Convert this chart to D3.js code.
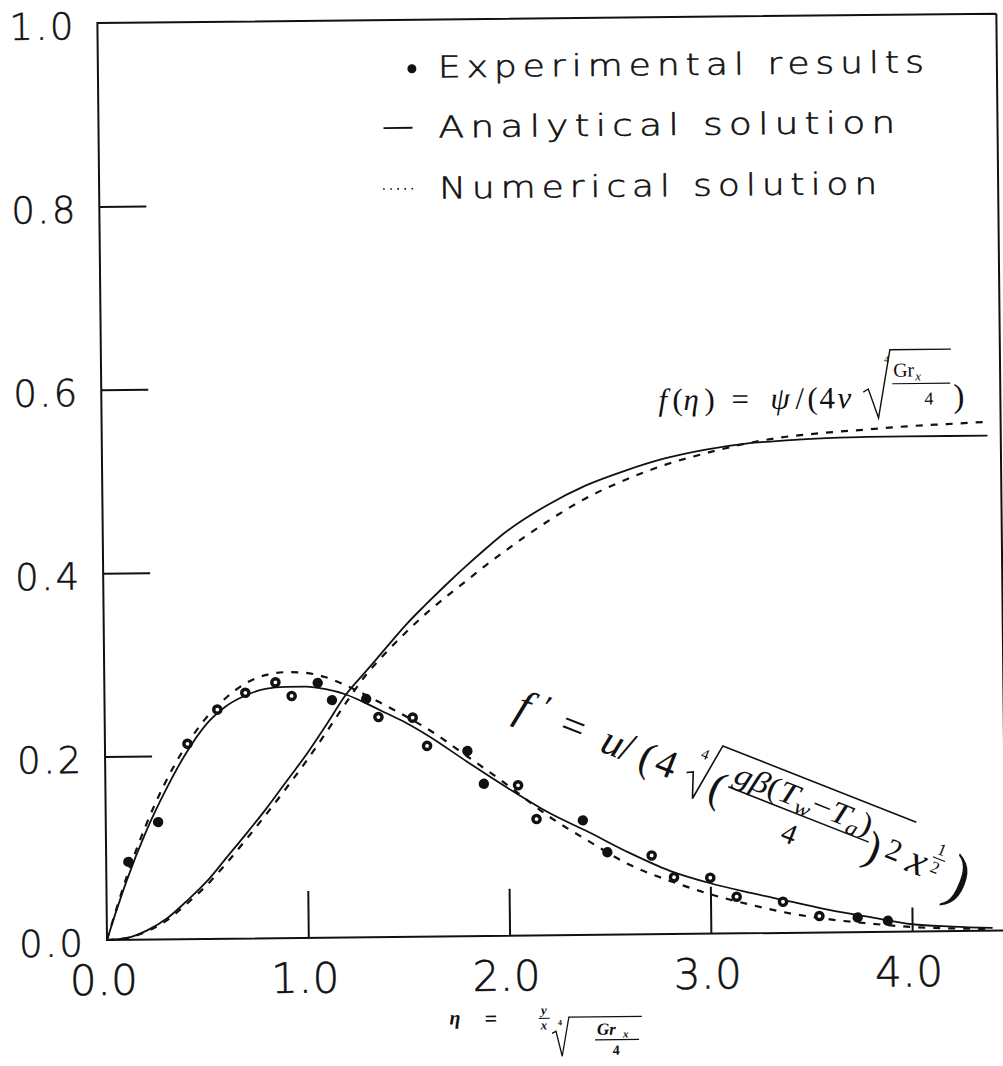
<!DOCTYPE html>
<html>
<head>
<meta charset="utf-8">
<script src="https://cdn.jsdelivr.net/npm/d3@7"></script>
<style>
  body { margin: 0; background: #fff; }
  .tick-font { font-family: "DejaVu Sans", sans-serif; font-weight: 200; stroke: #111; stroke-width: 0.55px; }
  .math { font-family: "Liberation Serif", "DejaVu Serif", serif; }
</style>
</head>
<body>
<svg id="chart" width="1003" height="1066"></svg>
<script>
// f(eta) curves
var etaF = [0, 0.1, 0.2, 0.3, 0.4, 0.5, 0.6, 0.7, 0.8, 0.9, 1.0, 1.1, 1.2, 1.3, 1.4, 1.5, 1.6, 1.7, 1.8, 1.9, 2.0,
            2.2, 2.4, 2.6, 2.8, 3.0, 3.2, 3.4, 3.6, 3.8, 4.0, 4.2, 4.4];
var fAnalytical = [0, 0.002, 0.010, 0.023, 0.042, 0.063, 0.089, 0.115, 0.142, 0.171, 0.200, 0.232, 0.265, 0.290, 0.315,
                   0.340, 0.362, 0.383, 0.403, 0.422, 0.440, 0.468, 0.490, 0.506, 0.519, 0.528, 0.534, 0.537, 0.539,
                   0.540, 0.540, 0.540, 0.540];
var fNumerical = [0, 0.002, 0.009, 0.021, 0.039, 0.059, 0.083, 0.109, 0.136, 0.164, 0.193, 0.224, 0.256, 0.286, 0.310,
                  0.332, 0.352, 0.370, 0.387, 0.404, 0.420, 0.450, 0.476, 0.496, 0.512, 0.524, 0.534, 0.541, 0.545,
                  0.548, 0.551, 0.553, 0.555];

// f'(eta) curves
var etaFp = [0, 0.05, 0.1, 0.2, 0.3, 0.4, 0.5, 0.6, 0.7, 0.8, 0.9, 1.0, 1.1, 1.2, 1.3, 1.4, 1.5, 1.6, 1.8, 2.0,
             2.2, 2.4, 2.6, 2.8, 3.0, 3.2, 3.4, 3.6, 3.8, 4.0, 4.2, 4.4];
var fpAnalytical = [0, 0.033, 0.064, 0.118, 0.163, 0.202, 0.233, 0.253, 0.265, 0.272, 0.274, 0.274, 0.271, 0.265, 0.255,
                    0.244, 0.233, 0.220, 0.190, 0.161, 0.134, 0.112, 0.089, 0.069, 0.055, 0.044, 0.034, 0.024, 0.016,
                    0.008, 0.005, 0.003];
var fpNumerical = [0, 0.035, 0.068, 0.125, 0.172, 0.210, 0.240, 0.262, 0.278, 0.287, 0.290, 0.289, 0.284, 0.275, 0.264,
                   0.252, 0.240, 0.227, 0.196, 0.164, 0.130, 0.102, 0.076, 0.058, 0.043, 0.031, 0.021, 0.014, 0.009,
                   0.005, 0.003, 0.002];

// experimental points (1 = filled dot, 0 = open circle)
var expEta = [0.11, 0.26, 0.41, 0.56, 0.70, 0.85, 0.93, 1.06, 1.13, 1.30, 1.36, 1.53, 1.60, 1.80, 1.88, 2.05, 2.14,
              2.37, 2.49, 2.71, 2.82, 3.00, 3.13, 3.36, 3.54, 3.73, 3.88];
var expValue = [0.085, 0.128, 0.213, 0.250, 0.268, 0.279, 0.264, 0.278, 0.259, 0.260, 0.240, 0.239, 0.208, 0.202, 0.166,
                0.164, 0.127, 0.125, 0.090, 0.086, 0.062, 0.061, 0.040, 0.034, 0.018, 0.016, 0.012];
var expFilled = [1, 1, 0, 0, 0, 0, 0, 1, 1, 1, 0, 0, 0, 1, 1, 0, 0, 1, 1, 0, 0, 0, 0, 0, 0, 1, 1];

var xTicks = [0, 1, 2, 3, 4];
var yTicks = [0, 0.2, 0.4, 0.6, 0.8, 1.0];
var legendLabels = ["Experimental results", "Analytical solution", "Numerical solution"];

var svg = d3.select("#chart");
// the scanned figure sits slightly tilted
var g = svg.append("g").attr("transform", "rotate(-0.6,107,940)");

var x = d3.scaleLinear().domain([0, 4.4]).range([107, 107 + 4.4 * 201.3]);
var y = d3.scaleLinear().domain([0, 1]).range([940, 23]);
var right = 1006;

// frame
g.append("path")
    .attr("d", "M" + right + "," + y(1) + "H" + x(0) + "V" + y(0) + "H" + right + "V" + y(1))
    .attr("fill", "none")
    .attr("stroke", "#111")
    .attr("stroke-width", 2);

// y axis: labels outside, ticks drawn inward
var yAxis = d3.axisLeft(y)
    .tickValues(yTicks)
    .tickFormat(d3.format(".1f"))
    .tickSizeInner(-47)
    .tickSizeOuter(0)
    .tickPadding(24);
var yg = g.append("g").attr("transform", "translate(" + x(0) + ",0)").call(yAxis);
yg.select(".domain").remove();
yg.selectAll(".tick line")
    .attr("stroke", "#111")
    .attr("stroke-width", 2)
    .attr("x2", function (d) { return (d === 0 || d === 1) ? 0 : 47; });
yg.selectAll(".tick text")
    .attr("class", "tick-font")
    .attr("font-size", 37)
    .attr("fill", "#111")
    .attr("dy", "0.42em")
    .attr("textLength", 64)
    .attr("lengthAdjust", "spacing");

// x axis
var xAxis = d3.axisBottom(x)
    .tickValues(xTicks)
    .tickFormat(d3.format(".1f"))
    .tickSizeInner(-47)
    .tickSizeOuter(0)
    .tickPadding(25);
var xg = g.append("g").attr("transform", "translate(0," + y(0) + ")").call(xAxis);
xg.select(".domain").remove();
xg.selectAll(".tick line")
    .attr("stroke", "#111")
    .attr("stroke-width", 2)
    .attr("y2", function (d) { return d === 0 ? 0 : (d === 4 ? -24 : -47); });
xg.selectAll(".tick text")
    .attr("class", "tick-font")
    .attr("font-size", 42)
    .attr("fill", "#111")
    .attr("dx", -4)
    .attr("textLength", 68)
    .attr("lengthAdjust", "spacing");

// curves
function curve(xs, ys) {
    return d3.line()
        .x(function (d, i) { return x(xs[i]); })
        .y(function (d) { return y(d); })
        .curve(d3.curveMonotoneX)(ys);
}

var curves = [
    { eta: etaF, v: fAnalytical, dash: null },
    { eta: etaF, v: fNumerical, dash: "7,8" },
    { eta: etaFp, v: fpAnalytical, dash: null },
    { eta: etaFp, v: fpNumerical, dash: "7,8" }
];
g.selectAll("path.curve")
    .data(curves)
    .enter()
    .append("path")
    .attr("class", "curve")
    .attr("d", function (c) { return curve(c.eta, c.v); })
    .attr("fill", "none")
    .attr("stroke", "#111")
    .attr("stroke-width", function (c) { return c.dash ? 2.2 : 1.8; })
    .attr("stroke-dasharray", function (c) { return c.dash; });

// experimental points
g.selectAll("circle.exp")
    .data(expEta)
    .enter()
    .append("circle")
    .attr("class", "exp")
    .attr("cx", function (d) { return x(d); })
    .attr("cy", function (d, i) { return y(expValue[i]); })
    .attr("r", function (d, i) { return expFilled[i] ? 5.2 : 3.6; })
    .attr("fill", function (d, i) { return expFilled[i] ? "#111" : "#fff"; })
    .attr("stroke", "#111")
    .attr("stroke-width", function (d, i) { return expFilled[i] ? 0 : 3.4; });

// legend
var legend = g.append("g");
var legendY = [81, 141, 202];
var legendW = [492, 463, 444];
legend.selectAll("text")
    .data(legendLabels)
    .enter()
    .append("text")
    .attr("class", "tick-font")
    .attr("x", 447)
    .attr("y", function (d, i) { return legendY[i]; })
    .attr("font-size", 30)
    .attr("letter-spacing", 5)
    .attr("fill", "#111")
    .attr("textLength", function (d, i) { return legendW[i]; })
    .attr("lengthAdjust", "spacingAndGlyphs")
    .text(function (d) { return d; });
legend.append("circle").attr("cx", 421).attr("cy", legendY[0] - 9).attr("r", 4.5).attr("fill", "#111");
legend.append("line")
    .attr("x1", 392).attr("x2", 421)
    .attr("y1", legendY[1] - 10).attr("y2", legendY[1] - 10)
    .attr("stroke", "#111").attr("stroke-width", 1.8);
legend.append("line")
    .attr("x1", 391).attr("x2", 423)
    .attr("y1", legendY[2] - 10).attr("y2", legendY[2] - 10)
    .attr("stroke", "#111").attr("stroke-width", 1.6)
    .attr("stroke-dasharray", "1.6,5.5");

// helper for math pieces
function put(parent, s, px, py, size, opts) {
    opts = opts || {};
    return parent.append("text")
        .attr("class", "math")
        .attr("x", px).attr("y", py)
        .attr("font-size", size)
        .attr("font-style", opts.italic ? "italic" : "normal")
        .attr("font-weight", opts.bold ? "bold" : "normal")
        .attr("text-anchor", opts.anchor || "start")
        .attr("fill", "#111")
        .text(s);
}

// f(eta) label
var fl = g.append("g");
put(fl, "f", 664, 416, 31, { italic: true });
put(fl, "(", 678, 416, 31);
put(fl, "η", 689, 416, 31, { italic: true });
put(fl, ")", 710, 416, 31);
put(fl, "=", 737, 416, 31);
put(fl, "ψ", 776, 416, 31, { italic: true });
put(fl, "/", 801, 416, 31);
put(fl, "(", 813, 416, 31);
put(fl, "4", 825, 416, 31);
put(fl, "ν", 843, 416, 31, { italic: true });
put(fl, "4", 890, 371, 10);
fl.append("path")
    .attr("d", "M869,400L874,397L884,426L896,358H957")
    .attr("fill", "none").attr("stroke", "#111").attr("stroke-width", 1.4);
put(fl, "Gr", 899, 385, 20);
put(fl, "x", 921, 389, 13, { italic: true });
fl.append("line").attr("x1", 898).attr("x2", 956).attr("y1", 392).attr("y2", 392)
    .attr("stroke", "#111").attr("stroke-width", 1.2);
put(fl, "4", 930, 413, 18);
put(fl, ")", 959, 416, 33);

// f' label, written along the falling curve
var fp = g.append("g").attr("transform", "translate(517,722) rotate(22.1)");
put(fp, "f", -2, 0, 44, { italic: true });
put(fp, "′", 22, -10, 34);
put(fp, "=", 46, 0, 42);
put(fp, "u", 90, 0, 42, { italic: true });
put(fp, "/", 110, 0, 42);
put(fp, "(", 131, 2, 42);
put(fp, "4", 148, 0, 40);
put(fp, "4", 187, -31, 15);
fp.append("path")
    .attr("d", "M180,-12L186,-15L195,10L204,-50H412")
    .attr("fill", "none").attr("stroke", "#111").attr("stroke-width", 1.6);
put(fp, "(", 207, 5, 44);
var num = fp.append("text").attr("class", "math").attr("x", 226).attr("y", -20)
    .attr("font-size", 31).attr("fill", "#111")
    .attr("textLength", 146).attr("lengthAdjust", "spacingAndGlyphs");
num.append("tspan").attr("font-style", "italic").text("gβ");
num.append("tspan").text("(");
num.append("tspan").attr("font-style", "italic").text("T");
num.append("tspan").attr("font-style", "italic").attr("font-size", 21).attr("dy", 6).text("w");
num.append("tspan").attr("dy", -6).text("−");
num.append("tspan").attr("font-style", "italic").text("T");
num.append("tspan").attr("font-style", "italic").attr("font-size", 21).attr("dy", 6).text("a");
num.append("tspan").attr("dy", -6).text(")");
fp.append("line").attr("x1", 224).attr("x2", 375).attr("y1", -14).attr("y2", -14)
    .attr("stroke", "#111").attr("stroke-width", 1.5);
put(fp, "4", 298, 17, 29, { anchor: "middle" });
put(fp, ")", 374, 4, 44);
put(fp, "2", 394, -6, 30);
put(fp, "x", 418, -1, 42, { italic: true });
put(fp, "1", 446, -28, 17, { anchor: "middle" });
fp.append("line").attr("x1", 440).attr("x2", 453).attr("y1", -24).attr("y2", -24)
    .attr("stroke", "#111").attr("stroke-width", 1.1);
put(fp, "2", 446, -9, 17, { anchor: "middle" });
put(fp, ")", 462, 6, 62);

// axis title: eta = (y/x) (Gr_x/4)^(1/4)
var at = g.append("g");
put(at, "η", 454, 1028, 20, { italic: true, bold: true, anchor: "middle" });
put(at, "=", 490, 1030, 22, { bold: true, anchor: "middle" });
put(at, "y", 543, 1019, 13, { italic: true, bold: true, anchor: "middle" });
at.append("line").attr("x1", 538).attr("x2", 549).attr("y1", 1023).attr("y2", 1023)
    .attr("stroke", "#111").attr("stroke-width", 1);
put(at, "x", 543, 1034, 13, { italic: true, bold: true, anchor: "middle" });
put(at, "4", 557, 1030, 8, { bold: true });
at.append("path")
    .attr("d", "M551,1038L555,1036L561,1061L568,1022H641")
    .attr("fill", "none").attr("stroke", "#111").attr("stroke-width", 1.3);
put(at, "Gr", 596, 1040, 17, { italic: true, bold: true });
put(at, "x", 622, 1043, 11, { italic: true, bold: true });
at.append("line").attr("x1", 594).attr("x2", 638).attr("y1", 1045).attr("y2", 1045)
    .attr("stroke", "#111").attr("stroke-width", 1.2);
put(at, "4", 615, 1060, 14, { bold: true, anchor: "middle" });
</script>
</body>
</html>
